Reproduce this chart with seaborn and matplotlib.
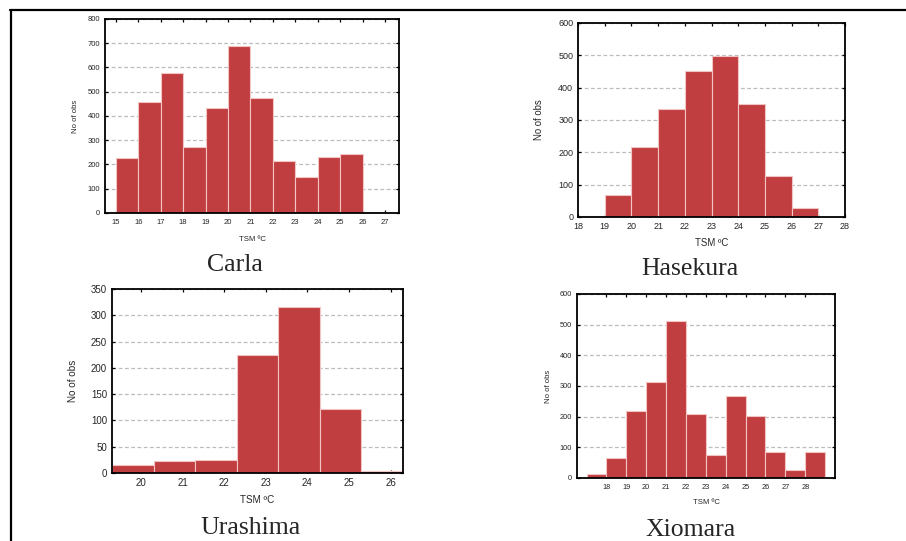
import matplotlib
matplotlib.use('Agg')
import matplotlib.pyplot as plt
from matplotlib.lines import Line2D
import seaborn as sns
import numpy as np

# Данные гистограмм (границы интервалов и число наблюдений)
carla_edges = [14, 15, 16, 17, 18, 19, 20, 21, 22, 23, 24, 25, 26, 27]
carla_counts = [5, 227, 459, 577, 274, 434, 690, 474, 216, 150, 232, 243, 4]

hasekura_edges = [18, 19, 20, 21, 22, 23, 24, 25, 26, 27, 28]
hasekura_counts = [3, 69, 217, 335, 450, 498, 348, 127, 29, 1]

urashima_edges = [19.3, 20.3, 21.3, 22.3, 23.3, 24.3, 25.3, 26.3]
urashima_counts = [15, 22, 25, 225, 316, 122, 3]

xiomara_edges = [17, 18, 19, 20, 21, 22, 23, 24, 25, 26, 27, 28, 29]
xiomara_counts = [13, 66, 220, 314, 511, 209, 74, 267, 201, 85, 26, 85]

names = ['Carla', 'Hasekura', 'Urashima', 'Xiomara']
edges_all = [carla_edges, hasekura_edges, urashima_edges, xiomara_edges]
counts_all = [carla_counts, hasekura_counts, urashima_counts, xiomara_counts]
xticks_all = [list(range(15, 28)), list(range(18, 29)), list(range(20, 27)), list(range(18, 29))]
xlims = [(14.52, 27.62), (18, 28), (19.3, 26.3), (16.52, 29.5)]
yticks_all = [list(range(0, 801, 100)), list(range(0, 601, 100)),
              list(range(0, 351, 50)), list(range(0, 601, 100))]

# Позиции осей в долях фигуры
rects = [[0.1159, 0.6063, 0.3245, 0.3586],
         [0.638, 0.5989, 0.2947, 0.3586],
         [0.1236, 0.1257, 0.3212, 0.3401],
         [0.6369, 0.1165, 0.2848, 0.3401]]
tick_fs = [5.5, 6.5, 7, 5.3]
label_fs = [5.6, 6.9, 7.1, 5.6]
tick_pad = [4.5, 3.5, 3.5, 4]
xlab_y = [-0.139, -0.134, -0.147, -0.136]
ylab_x = [-0.099, -0.146, -0.134, -0.112]
title_pos = [(0.259, 0.51), (0.762, 0.502), (0.276, 0.024), (0.762, 0.02)]

sns.set_theme(style='white')
plt.rcParams['font.family'] = ['Liberation Sans', 'DejaVu Sans']

bar_color = '#c13e40'
fig = plt.figure(figsize=(9.06, 5.41), dpi=100)

for i in range(4):
    ax = fig.add_axes(rects[i])
    edges = edges_all[i]
    counts = counts_all[i]
    centers = [(a + b) / 2 for a, b in zip(edges[:-1], edges[1:])]
    sns.histplot(x=centers, weights=counts, bins=edges, color=bar_color,
                 edgecolor='#f2c4c4', linewidth=0.8, alpha=1, ax=ax)
    ax.set_xlim(*xlims[i])
    ax.set_ylim(yticks_all[i][0], yticks_all[i][-1])
    ax.set_xticks(xticks_all[i])
    ax.set_yticks(yticks_all[i])
    ax.set_axisbelow(True)
    ax.yaxis.grid(True, linestyle=(0, (3, 2)), color='#bcbcbc', linewidth=0.9)
    ax.xaxis.grid(False)
    for sp in ax.spines.values():
        sp.set_visible(True)
        sp.set_color('black')
        sp.set_linewidth(1.3)
    ax.tick_params(direction='in', length=2.5, width=0.9, color='black',
                   top=True, right=True, bottom=True, left=True,
                   labelsize=tick_fs[i])
    ax.tick_params(axis='x', pad=tick_pad[i])
    ax.set_xlabel('TSM ºC', fontsize=label_fs[i], va='center')
    ax.set_ylabel('No of obs', fontsize=label_fs[i], va='center')
    ax.xaxis.set_label_coords(0.5, xlab_y[i])
    ax.yaxis.set_label_coords(ylab_x[i], 0.5)
    fig.text(title_pos[i][0], title_pos[i][1], names[i], ha='center', va='center',
             fontsize=18.5, family='Liberation Serif')

# Рамка страницы
fig.add_artist(Line2D([10 / 906, 1.0], [1 - 10 / 541, 1 - 10 / 541],
                      color='black', linewidth=1.6, transform=fig.transFigure))
fig.add_artist(Line2D([11 / 906, 11 / 906], [0, 1 - 10 / 541],
                      color='black', linewidth=1.6, transform=fig.transFigure))

fig.savefig('out.png', dpi=100)
